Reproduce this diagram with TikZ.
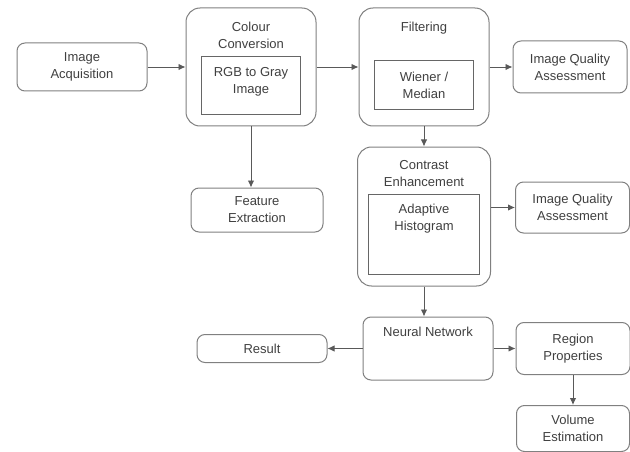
\documentclass[tikz,border=0pt]{standalone}
\usepackage{fontspec}
\setmainfont{Liberation Sans}
\usetikzlibrary{positioning,arrows.meta}

\begin{document}
\begin{tikzpicture}
[x=1pt, y=1pt, node distance=30pt and 30pt,
ar/.style={->,>={Latex[length=7pt,width=6.5pt]}, draw=black!65, line width=0.9pt},
mynode/.style={
  draw=black!50, line width=1pt, rounded corners=8pt, fill=white,
  text=black!75, font=\fontsize{13}{17}\selectfont,
  minimum width=130pt, minimum height=48pt, inner sep=2pt,
  align=center
  }
]

\tikzstyle{smallbox}  =  [mynode]
\tikzstyle{stagebox}  =  [mynode, rounded corners=14pt, minimum height=118pt]
\tikzstyle{innerbox}  =  [mynode, rounded corners=0pt, draw=black!60, anchor=north]
\tikzstyle{titlenode} =  [inner sep=0pt, anchor=north, align=center, text=black!75,
                          font=\fontsize{13}{17}\selectfont]

\useasboundingbox (0,0) rectangle (630,-452);

% top row
\node[smallbox] (acq) at (82,-67) {Image\\Acquisition};
\node[stagebox] (conv) [right=38pt of acq] {};
\node[stagebox] (filt) [right=42pt of conv] {};
\node[smallbox, minimum width=114pt, minimum height=52pt] (iqa1) [right=23pt of filt] {Image Quality\\Assessment};

\node[titlenode] (convtitle) [below=14pt of conv.north] {Colour\\Conversion};
\node[innerbox, minimum width=99pt, minimum height=58pt] (rgb) [below=49pt of conv.north] {RGB to Gray\\Image\\[-6pt]\mbox{}};
\node[titlenode] (filttitle) [below=14pt of filt.north] {Filtering};
\node[innerbox, minimum width=99pt, minimum height=49pt] (wiener) [below=53pt of filt.north] {Wiener /\\Median};

% middle
\node[smallbox, minimum width=132pt, minimum height=44pt, xshift=6pt] (feat) [below=61pt of conv] {Feature\\Extraction};
\node[stagebox, minimum width=133pt, minimum height=139pt] (cont) [below=20pt of filt] {};
\node[titlenode] (conttitle) [below=14pt of cont.north] {Contrast\\Enhancement};
\node[innerbox, minimum width=111pt, minimum height=80pt] (hist) [below=47pt of cont.north] {Adaptive\\Histogram\\ \\ };
\node[smallbox, minimum width=114pt, minimum height=51pt, yshift=9pt] (iqa2) [right=24pt of cont] {Image Quality\\Assessment};

% bottom
\node[smallbox, minimum height=63pt, xshift=4pt] (nn) [below=30pt of cont] {};
\node[titlenode] (nntitle) [below=10pt of nn.north] {Neural Network};
\node[smallbox, minimum height=28pt] (res) [left=35pt of nn] {Result};
\node[smallbox, minimum width=114pt, minimum height=52pt] (rp) [right=22pt of nn] {Region\\Properties};
\node[smallbox, minimum width=113pt, minimum height=46pt] (vol) [below=30pt of rp] {Volume\\Estimation};

%edges

\draw[ar] (acq) -- (conv);
\draw[ar] (conv) -- (filt);
\draw[ar] (filt) -- (iqa1);
\draw[ar] (conv.south) -- (conv.south |- feat.north);
\draw[ar] (filt) -- (cont);
\draw[ar] (cont.east |- iqa2.west) -- (iqa2.west);
\draw[ar] (cont.south) -- (cont.south |- nn.north);
\draw[ar] (nn) -- (res);
\draw[ar] (nn) -- (rp);
\draw[ar] (rp) -- (vol);

\end{tikzpicture}
\end{document}
